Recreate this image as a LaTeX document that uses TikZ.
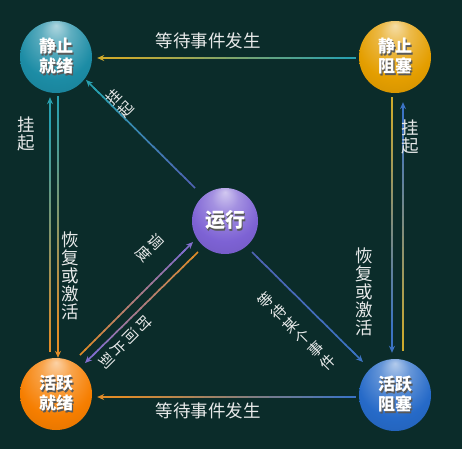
\documentclass[tikz,border=0pt]{standalone}
\usepackage{fontspec}
\newfontfamily\cjk{Noto Sans CJK SC}
\usetikzlibrary{arrows.meta,calc}
\definecolor{bg}{RGB}{11,44,42}
\definecolor{cteal}{RGB}{28,140,165}
\definecolor{cgold}{RGB}{228,158,0}
\definecolor{cpurple}{RGB}{125,98,212}
\definecolor{corange}{RGB}{246,126,0}
\definecolor{cblue}{RGB}{38,106,200}
\definecolor{lteal}{RGB}{40,160,175}
\definecolor{lgold}{RGB}{205,170,45}
\definecolor{lorange}{RGB}{225,140,40}
\definecolor{lblue}{RGB}{60,115,195}
\definecolor{lpurple}{RGB}{130,110,205}
\definecolor{lslate}{RGB}{80,100,180}
\definecolor{txt}{RGB}{232,234,234}
\newcommand\mksph[1]{%
  \pgfdeclareradialshading{sph#1}{\pgfpoint{0bp}{22bp}}{%
    color(0bp)=(#1!35!white); color(10bp)=(#1!70!white); color(26bp)=(#1);
    color(42bp)=(#1!88!black); color(50bp)=(#1!72!black)}}
\mksph{cteal}\mksph{cgold}\mksph{cpurple}\mksph{corange}\mksph{cblue}
\newcommand\shd[1]{\makebox[0pt][l]{\kern1.3pt\raisebox{-1.3pt}{\textcolor{black!65}{#1}}}#1}
\tikzset{
  conn/.style={line width=1.6pt},
  state/.style={circle, minimum size=72pt, inner sep=0pt, text=white,
    font=\cjk\bfseries\fontsize{17}{20}\selectfont, align=center},
  lbl/.style={text=txt, font=\cjk\fontsize{17.5}{18}\selectfont, align=center, inner sep=0pt},
  dlbl/.style={text=txt, font=\cjk\fontsize{15}{17.5}\selectfont, align=center, inner sep=0pt},
}
\newcommand\gradarrow[4]{%
  \foreach \k in {0,...,21}{%
    \pgfmathsetmacro\ta{0.92*\k/22}%
    \pgfmathsetmacro\tb{0.92*(\k+1.3)/22}%
    \pgfmathtruncatemacro\pc{100*\k/21}%
    \draw[conn,color=#4!\pc!#3] ($(#1)!\ta!(#2)$) -- ($(#1)!\tb!(#2)$);
  }%
  \draw[conn,color=#4,-{Stealth[length=7pt,width=6pt]}] ($(#1)!0.9!(#2)$) -- (#2);
}
\begin{document}
\begin{tikzpicture}[x=1pt,y=-1pt]
\useasboundingbox (0,0) rectangle (462,449);
\fill[bg] (0,0) rectangle (462,449);

% states
\node[state, shading=sphcteal]   (qj)  at (56,57)   {\shd{静止}\\\shd{就绪}};
\node[state, shading=sphcgold]   (qz)  at (395,57)  {\shd{静止}\\\shd{阻塞}};
\node[state, shading=sphcpurple, minimum size=66pt, font=\cjk\bfseries\fontsize{20}{22}\selectfont] (run) at (225,221) {\shd{运行}};
\node[state, shading=sphcorange] (hj)  at (56,394)  {\shd{活跃}\\\shd{就绪}};
\node[state, shading=sphcblue]   (hz)  at (395,395) {\shd{活跃}\\\shd{阻塞}};

% connector end points
\coordinate (s1) at ($(qz.west)+(-3,1)$);
\coordinate (e1) at ($(qj.east)+(5,1)$);
\coordinate (s2) at ($(hz.west)+(-3,2)$);
\coordinate (e2) at ($(hj.east)+(5,3)$);
\coordinate (s3) at ($(hj.north)+(-6,-6)$);
\coordinate (e3) at ($(qj.south)+(-6,4)$);
\coordinate (s4) at ($(qj.south)+(2,3)$);
\coordinate (e4) at ($(hj.north)+(2,0)$);
\coordinate (s5) at ($(qz.south)+(-3,4)$);
\coordinate (e5) at ($(hz.north)+(-3,-6)$);
\coordinate (s6) at ($(hz.north)+(8,-8)$);
\coordinate (e6) at ($(qz.south)+(8,9)$);
\coordinate (s7) at ($(run.center)+(-30,-33)$);
\coordinate (e7) at ($(qj.center)+(30,23)$);
\coordinate (s8) at ($(hj.center)+(24,-39)$);
\coordinate (e8) at ($(run.center)+(-32,21)$);
\coordinate (s9) at ($(run.center)+(-27,31)$);
\coordinate (e9) at ($(hj.center)+(29,-31)$);
\coordinate (s10) at ($(run.center)+(27,31)$);
\coordinate (e10) at ($(hz.center)+(-32,-33)$);

% connectors
\gradarrow{s1}{e1}{lteal}{lgold}
\gradarrow{s2}{e2}{lblue}{lorange}
\gradarrow{s3}{e3}{lorange}{lteal}
\gradarrow{s4}{e4}{lteal}{lorange}
\gradarrow{s5}{e5}{lgold}{lblue}
\gradarrow{s6}{e6}{lgold}{lblue}
\gradarrow{s7}{e7}{lslate}{lteal}
\gradarrow{s8}{e8}{lorange}{lpurple}
\gradarrow{s9}{e9}{lorange}{lpurple}
\gradarrow{s10}{e10}{lslate}{lblue}

% labels
\node[lbl] (l1) at (208,41) {等待事件发生};
\node[lbl] (l2) at (208,411) {等待事件发生};
\node[lbl] (l3) at (26,134) {挂\\起};
\node[lbl] (l4) at (70,276) {恢\\复\\或\\激\\活};
\node[lbl] (l5) at (410,137) {挂\\起};
\node[lbl] (l6) at (364,292) {恢\\复\\或\\激\\活};
\node[dlbl, rotate=45]  (l7) at (120,103) {挂\\起};
\node[dlbl, rotate=-45] (l8) at (150,248) {调\\度};
\node[dlbl, rotate=-45] (l9) at (125,342) {时\\间\\片\\到};
\node[dlbl, rotate=45]  (l10) at (297,331) {等\\待\\某\\个\\事\\件};
\end{tikzpicture}
\end{document}
